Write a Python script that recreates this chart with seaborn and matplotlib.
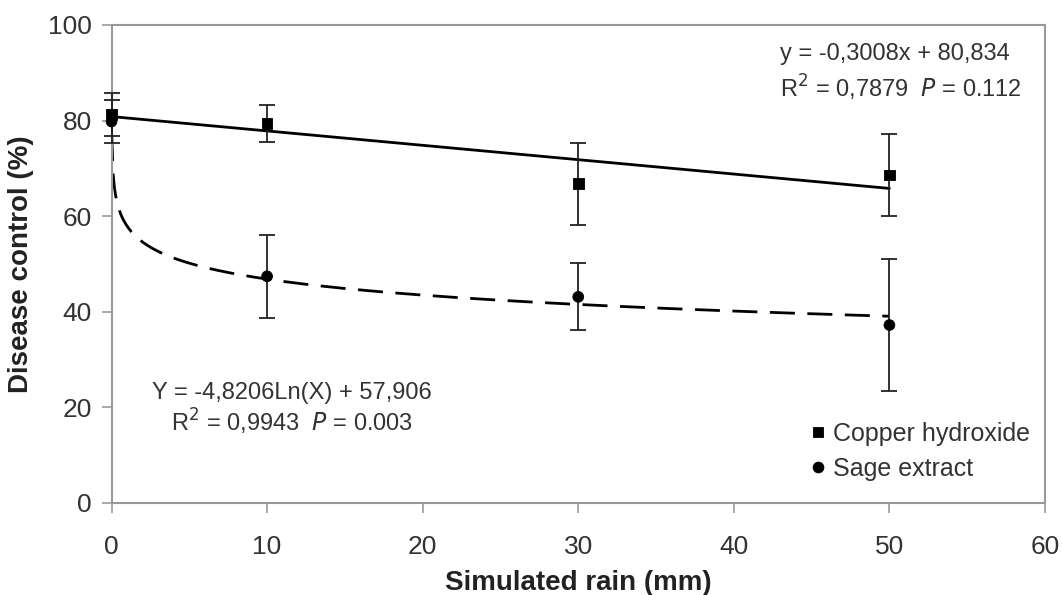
import numpy as np
import pandas as pd
import matplotlib
matplotlib.use('Agg')
import matplotlib.pyplot as plt
import seaborn as sns

# ── Data ────────────────────────────────────────────────────────────────
rain = [0, 10, 30, 50]
copper_mean = [81.3, 79.4, 66.8, 68.6]
copper_err = [4.5, 3.8, 8.6, 8.5]
sage_mean = [79.8, 47.4, 43.1, 37.2]
sage_err = [4.5, 8.7, 7.0, 13.8]

# trend line coefficients printed on the chart
lin_slope, lin_icpt = -0.3008, 80.834
log_coef, log_icpt = -4.8206, 57.906

df = pd.DataFrame({
    'rain': rain * 2,
    'control': copper_mean + sage_mean,
    'treatment': ['Copper hydroxide'] * 4 + ['Sage extract'] * 4,
})

sns.set_style('white')
plt.rcParams['font.family'] = ['Liberation Sans', 'DejaVu Sans']

fig = plt.figure(figsize=(10.62, 5.95), dpi=100)
ax = fig.add_axes([0.105, 0.155, 0.879, 0.803])

# trend lines
xl = np.linspace(0, 50, 50)
ax.plot(xl, lin_slope * xl + lin_icpt, color='black', lw=2, zorder=2)
xg = np.linspace(0.02, 50, 600)
ax.plot(xg, log_coef * np.log(xg) + log_icpt, color='black', lw=2,
        dashes=(9, 4.5), zorder=2)

# error bars
for m, e in [(copper_mean, copper_err), (sage_mean, sage_err)]:
    ax.errorbar(rain, m, yerr=e, fmt='none', ecolor='#222222',
                elinewidth=1.3, capsize=6, capthick=1.3, zorder=3, clip_on=False)

# points
sns.scatterplot(data=df, x='rain', y='control', style='treatment',
                markers={'Copper hydroxide': 's', 'Sage extract': 'o'},
                color='black', s=60, edgecolor='black', zorder=4, ax=ax,
                clip_on=False)

ax.set_xlim(0, 60)
ax.set_ylim(0, 100)
ax.set_xticks(range(0, 61, 10))
ax.set_yticks(range(0, 101, 20))
ax.tick_params(axis='both', labelsize=19, labelcolor='#333333', colors='#999999',
               direction='out', length=7, width=1.2, bottom=True, left=True)
ax.tick_params(axis='x', pad=16)
ax.tick_params(axis='y', pad=7)
for sp in ax.spines.values():
    sp.set_color('#999999')
    sp.set_linewidth(1.5)

ax.set_xlabel('Simulated rain (mm)', fontsize=20, fontweight='bold', color='#222222',
              labelpad=8)
ax.set_ylabel('Disease control (%)', fontsize=20, fontweight='bold', color='#222222',
              labelpad=10)

# equations
eq_kw = dict(transform=ax.transAxes, va='center', fontsize=17, color='#333333')
ax.text(0.716, 0.939, 'y = -0,3008x + 80,834', ha='left', **eq_kw)
ax.text(0.716, 0.868, r'R$^{2}$ = 0,7879  $P$ = 0.112', ha='left', **eq_kw)
ax.text(0.193, 0.230, 'Y = -4,8206Ln(X) + 57,906', ha='center', **eq_kw)
ax.text(0.193, 0.169, r'R$^{2}$ = 0,9943  $P$ = 0.003', ha='center', **eq_kw)

leg = ax.legend(loc='lower right', frameon=False, fontsize=18, handletextpad=0.0,
                handlelength=1.2, bbox_to_anchor=(0.995, 0.025), borderaxespad=0,
                labelspacing=0.45)
for t in leg.get_texts():
    t.set_color('#333333')
for h in leg.legend_handles:
    h.set_color('black')

fig.savefig('out.png', dpi=100)
